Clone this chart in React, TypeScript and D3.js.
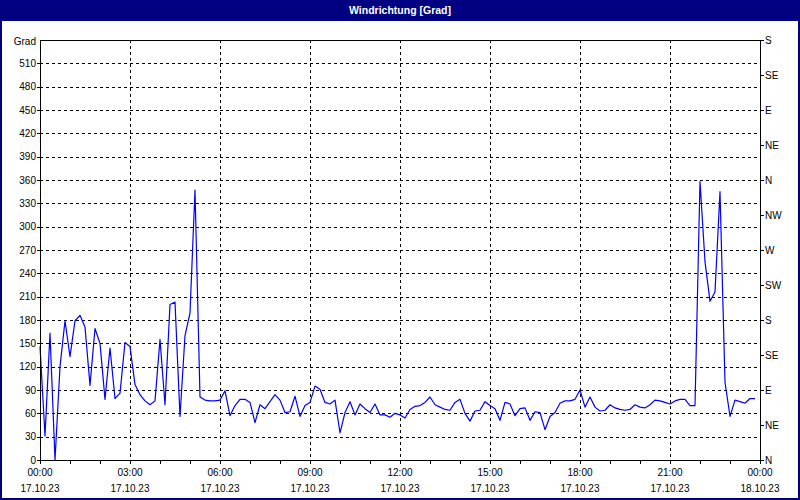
import React from 'react';
import * as d3 from 'd3';

const TITLE = 'Windrichtung [Grad]';
const Y_UNIT = 'Grad';
const START_MIN = 0;
const STEP_MIN = 10;

// wind direction in degrees, one value every 10 minutes from 17.10.23 00:00
const windDir = [
  146, 31, 163, 0, 120, 179, 133, 179, 186, 171, 96, 169, 150, 78, 144, 79, 86, 151,
  146, 97, 84, 76, 71, 76, 155, 71, 200, 203, 56, 160, 189, 347, 81, 77, 76, 76,
  77, 89, 57, 70, 78, 78, 74, 48, 71, 66, 75, 84, 77, 61, 62, 82, 56, 70,
  74, 95, 91, 74, 72, 77, 35, 61, 75, 58, 72, 66, 61, 72, 58, 58, 55, 60,
  58, 54, 65, 69, 70, 74, 81, 71, 68, 65, 64, 74, 78, 60, 50, 63, 64, 75,
  70, 66, 51, 74, 72, 57, 66, 67, 51, 62, 61, 39, 56, 61, 73, 76, 76, 78,
  90, 68, 81, 68, 63, 64, 71, 67, 65, 64, 65, 71, 68, 67, 71, 77, 76, 74,
  72, 76, 78, 78, 70, 70, 358, 255, 204, 216, 345, 100, 56, 77, 75, 73, 79, 79,
];

const yTickValues = [0, 30, 60, 90, 120, 150, 180, 210, 240, 270, 300, 330, 360, 390, 420, 450, 480, 510];
const compassValues = [0, 45, 90, 135, 180, 225, 270, 315, 360, 405, 450, 495, 540];
const compassLabels = ['N', 'NE', 'E', 'SE', 'S', 'SW', 'W', 'NW', 'N', 'NE', 'E', 'SE', 'S'];
const timeTickMinutes = [0, 180, 360, 540, 720, 900, 1080, 1260, 1440];
const timeLabels = ['00:00', '03:00', '06:00', '09:00', '12:00', '15:00', '18:00', '21:00', '00:00'];
const dateLabels = ['17.10.23', '17.10.23', '17.10.23', '17.10.23', '17.10.23', '17.10.23', '17.10.23', '17.10.23', '18.10.23'];
const hourTickMinutes = d3.range(0, 1441, 60);

const W = 800;
const H = 500;
const L = 40, R = 760, T = 40, B = 460;
const FONT = '"Liberation Sans", Arial, sans-serif';
const NAVY = '#000080';

export default function App() {
  const x = d3.scaleLinear().domain([0, 1440]).range([L, R]);
  const y = d3.scaleLinear().domain([0, 540]).range([B, T]);
  const pts: [number, number][] = windDir.map((v, i) => [START_MIN + i * STEP_MIN, v]);
  const line = d3
    .line<[number, number]>()
    .x((d) => x(d[0]))
    .y((d) => y(d[1]));
  const px = (v: number) => Math.round(v) + 0.5;

  return (
    <svg
      width={W}
      height={H}
      style={{ position: 'fixed', left: 0, top: 0, display: 'block', background: '#fff' }}
      fontFamily={FONT}
    >
      <rect x={1} y={1} width={W - 2} height={H - 2} fill="#ffffff" stroke={NAVY} strokeWidth={2} />
      <rect x={0} y={0} width={W} height={21} fill={NAVY} />
      <text x={W / 2} y={14} fill="#fff" fontSize={10.5} fontWeight="bold" textAnchor="middle">
        {TITLE}
      </text>

      {/* grid */}
      <g stroke="#000" strokeWidth={1} strokeDasharray="3,3" shapeRendering="crispEdges">
        {yTickValues.filter((v) => v > 0).map((v) => (
          <line key={'gy' + v} x1={L} x2={R} y1={px(y(v))} y2={px(y(v))} />
        ))}
        {timeTickMinutes.filter((m) => m > 0 && m < 1440).map((m) => (
          <line key={'gx' + m} x1={px(x(m))} x2={px(x(m))} y1={T} y2={B} />
        ))}
      </g>

      {/* data */}
      <path d={line(pts) || ''} fill="none" stroke="#0000ff" strokeWidth={1.2} strokeLinejoin="round" />

      {/* frame */}
      <rect x={L + 0.5} y={T + 0.5} width={R - L} height={B - T} fill="none" stroke="#000" strokeWidth={1} shapeRendering="crispEdges" />

      {/* left axis */}
      <g fontSize={10} fill="#000" shapeRendering="crispEdges">
        {yTickValues.map((v) => (
          <g key={'ly' + v}>
            <line x1={L - 3} x2={L} y1={px(y(v))} y2={px(y(v))} stroke="#000" />
            <text x={L - 4} y={y(v) + 3.5} textAnchor="end">{v}</text>
          </g>
        ))}
        <text x={L - 4} y={y(540) + 4.5} textAnchor="end">{Y_UNIT}</text>
      </g>

      {/* right axis */}
      <g fontSize={10} fill="#000" shapeRendering="crispEdges">
        {compassValues.map((v, i) => (
          <g key={'ry' + i}>
            <line x1={R} x2={R + 4} y1={px(y(v))} y2={px(y(v))} stroke="#000" />
            <text x={R + 5} y={y(v) + 3.5} textAnchor="start">{compassLabels[i]}</text>
          </g>
        ))}
      </g>

      {/* bottom axis */}
      <g fontSize={10} fill="#000" shapeRendering="crispEdges">
        {hourTickMinutes.map((m) => (
          <line key={'hx' + m} x1={px(x(m))} x2={px(x(m))} y1={B} y2={B + 4} stroke="#000" />
        ))}
        {timeTickMinutes.map((m, i) => (
          <g key={'tx' + m}>
            <text x={x(m)} y={476} textAnchor="middle">{timeLabels[i]}</text>
            <text x={x(m)} y={492} textAnchor="middle">{dateLabels[i]}</text>
          </g>
        ))}
      </g>
    </svg>
  );
}
